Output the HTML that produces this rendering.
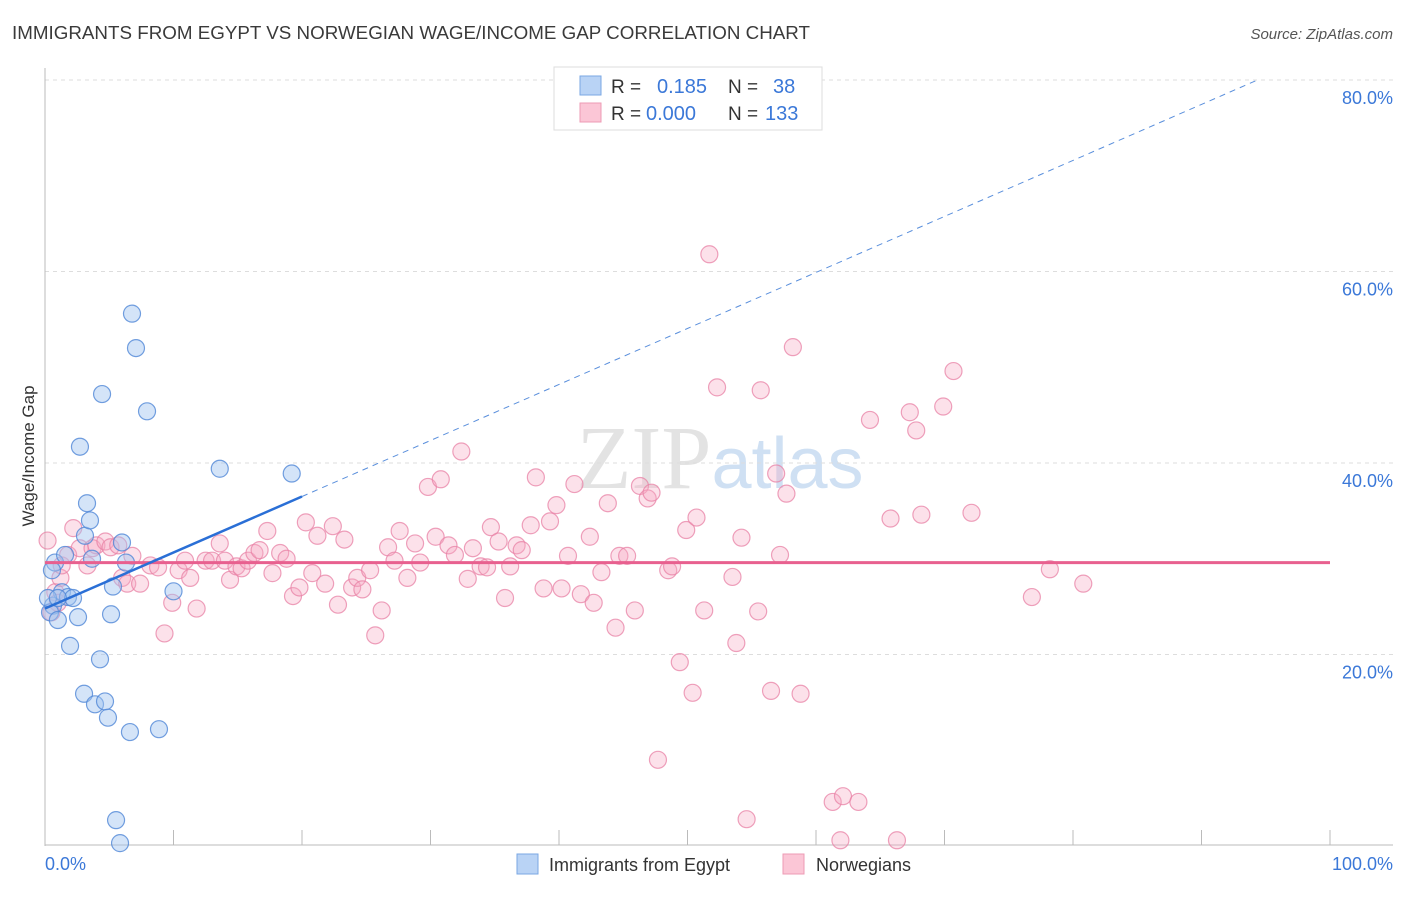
<!DOCTYPE html>
<html><head><meta charset="utf-8"><style>
body{margin:0;background:#fff;font-family:"Liberation Sans",sans-serif;}
</style></head><body>
<svg id="chart" width="1406" height="892" xmlns="http://www.w3.org/2000/svg" font-family="Liberation Sans, sans-serif">
<text x="12" y="39" font-size="18" fill="#3a3a3a" textLength="798" lengthAdjust="spacingAndGlyphs">IMMIGRANTS FROM EGYPT VS NORWEGIAN WAGE/INCOME GAP CORRELATION CHART</text>
<text x="1393" y="39" font-size="15" fill="#555" font-style="italic" text-anchor="end">Source: ZipAtlas.com</text>
<text x="720" y="488" font-size="90" text-anchor="middle" fill="#e3e3e3"><tspan font-family="Liberation Serif, serif">ZIP</tspan><tspan fill="#cfe0f3" font-size="72">atlas</tspan></text>
<g id="grid"></g>
<g id="axes"></g>
<g id="marks"></g>
<text transform="translate(34,456) rotate(-90)" font-size="17" fill="#333" text-anchor="middle">Wage/Income Gap</text>
<g>
<rect x="554" y="67" width="268" height="63" fill="#fff" stroke="#ddd"/>
<rect x="580" y="76" width="21" height="19" fill="#b9d3f5" stroke="#7aa7e3"/>
<rect x="580" y="103" width="21" height="19" fill="#fbc6d6" stroke="#ee9bb4"/>
<text x="611" y="93" font-size="19" fill="#333">R = </text><text x="657" y="93" font-size="20" fill="#3b78d8">0.185</text>
<text x="728" y="93" font-size="19" fill="#333">N = </text><text x="773" y="93" font-size="20" fill="#3b78d8">38</text>
<text x="611" y="120" font-size="19" fill="#333">R = </text><text x="646" y="120" font-size="20" fill="#3b78d8">0.000</text>
<text x="728" y="120" font-size="19" fill="#333">N = </text><text x="765" y="120" font-size="20" fill="#3b78d8">133</text>
</g>
<g>
<rect x="517" y="854" width="21" height="20" fill="#b9d3f5" stroke="#7aa7e3"/>
<text x="549" y="871" font-size="18" fill="#333">Immigrants from Egypt</text>
<rect x="783" y="854" width="21" height="20" fill="#fbc6d6" stroke="#ee9bb4"/>
<text x="816" y="871" font-size="18" fill="#333">Norwegians</text>
</g>
</svg>
<script>
const yTicks=[20,40,60,80];
const yTickLabels=["20.0%","40.0%","60.0%","80.0%"];
const xTicks=[0,10,20,30,40,50,60,70,80,90,100];
const xEndLabels=["0.0%","100.0%"];
const egyptX=[0.78,0.54,0.62,0.39,1.0,1.56,1.32,1.79,2.18,1.95,2.57,3.11,2.72,3.27,3.5,3.66,4.28,3.04,3.89,4.67,4.9,5.14,5.29,5.99,6.3,6.61,8.87,6.77,7.08,7.94,4.44,13.6,19.2,10.0,5.53,5.84,0.23,1.0];
const egyptY=[29.6,28.8,25.1,24.4,23.6,30.4,26.5,26.0,25.9,20.9,23.9,32.4,41.7,35.8,34.0,30.0,19.5,15.9,14.8,15.1,13.4,24.2,27.1,31.7,29.6,11.9,12.2,55.6,52.0,45.4,47.2,39.4,38.9,26.6,2.7,0.3,25.9,25.9];
const norX=[0.8,1.2,0.5,1.0,1.3,1.8,2.2,2.7,3.3,3.7,4.0,4.7,5.1,5.7,6.0,6.4,6.8,7.4,8.2,8.8,9.3,9.9,10.4,10.9,11.3,11.8,12.5,13.0,13.6,14.0,14.4,14.9,15.3,15.8,16.3,16.7,17.3,17.7,18.3,18.8,19.3,19.8,20.3,20.8,21.2,21.8,22.4,22.8,23.3,23.9,24.3,24.7,25.3,25.7,26.2,26.7,27.2,27.6,28.2,28.8,29.2,29.8,30.4,30.8,31.4,31.9,32.4,32.9,33.3,33.9,34.4,34.7,35.3,35.8,36.2,36.7,37.1,37.8,38.2,38.8,39.3,39.8,40.2,40.7,41.2,41.7,42.4,42.7,43.3,43.8,44.4,44.7,45.3,45.9,46.3,46.9,47.2,48.5,48.8,49.4,49.9,50.4,50.7,51.3,51.7,52.3,53.5,53.8,54.2,55.5,55.7,56.5,56.9,57.2,57.7,58.2,58.8,47.7,54.6,61.3,62.1,63.3,61.9,66.3,64.2,65.8,67.3,67.8,68.2,69.9,70.7,72.1,76.8,78.2,80.8,0.2];
const norY=[26.5,28.0,24.4,25.4,29.3,30.4,33.2,31.1,29.3,31.1,31.4,31.8,31.2,31.4,28.0,27.4,30.3,27.4,29.3,29.1,22.2,25.4,28.8,29.8,28.0,24.8,29.8,29.8,31.6,29.8,27.8,29.2,29.0,29.8,30.6,30.9,32.9,28.5,30.6,30.0,26.1,27.0,33.8,28.5,32.4,27.4,33.4,25.2,32.0,27.0,28.0,26.8,28.8,22.0,24.6,31.2,29.8,32.9,28.0,31.6,29.6,37.5,32.3,38.3,31.4,30.4,41.2,27.9,31.1,29.2,29.1,33.3,31.8,25.9,29.2,31.4,30.9,33.5,38.5,26.9,33.9,35.6,26.9,30.3,37.8,26.3,32.3,25.4,28.6,35.8,22.8,30.3,30.3,24.6,37.6,36.3,36.9,28.8,29.2,19.2,33.0,16.0,34.3,24.6,61.8,47.9,28.1,21.2,32.2,24.5,47.6,16.2,38.9,30.4,36.8,52.1,15.9,9.0,2.8,4.6,5.2,4.6,0.6,0.6,44.5,34.2,45.3,43.4,34.6,45.9,49.6,34.8,26.0,28.9,27.4,31.9];
const egyptTrend=[24.8,0.585]; // intercept, slope
const norTrend=[29.6,0];
const X0=45,X1=1330,Y0=846,Y80=80;
const sx=v=>X0+(X1-X0)*v/100;
const sy=v=>Y0-(Y0-Y80)*v/80;
const NS="http://www.w3.org/2000/svg";
function mk(tag,attrs,parent){const e=document.createElementNS(NS,tag);for(const k in attrs)e.setAttribute(k,attrs[k]);parent.appendChild(e);return e;}
const grid=document.getElementById('grid'),axes=document.getElementById('axes'),marks=document.getElementById('marks');
yTicks.forEach((t,i)=>{
  const l=mk('line',{x1:X0,x2:1393,y1:sy(t),y2:sy(t),stroke:'#ddd','stroke-dasharray':'4,4'},grid);
  
  
  const tx=mk('text',{x:1393,y:sy(t)+24,'font-size':18,fill:'#3b78d8','text-anchor':'end'},axes);
  tx.textContent=yTickLabels[i];
  
  
});
const la=mk('line',{x1:X0,x2:X0,y1:68,y2:Y0,stroke:'#bbb'},axes);


const ba=mk('line',{x1:X0,x2:1393,y1:845,y2:845,stroke:'#bbb'},axes);


xTicks.forEach(t=>{
  const tk=mk('line',{x1:sx(t),x2:sx(t),y1:830,y2:845,stroke:'#bbb'},axes);
  
  
});
const xl0=mk('text',{x:45,y:870,'font-size':18,fill:'#3b78d8'},axes);xl0.textContent=xEndLabels[0];


const xl1=mk('text',{x:1393,y:870,'font-size':18,fill:'#3b78d8','text-anchor':'end'},axes);xl1.textContent=xEndLabels[1];


norX.forEach((x,i)=>{
  const c=mk('circle',{cx:sx(x),cy:sy(norY[i]),r:8.5,fill:'rgba(245,170,195,0.35)',stroke:'rgba(232,130,165,0.75)','stroke-width':1.2},marks);
  
  
});
egyptX.forEach((x,i)=>{
  const c=mk('circle',{cx:sx(x),cy:sy(egyptY[i]),r:8.5,fill:'rgba(160,195,240,0.45)',stroke:'rgba(80,135,215,0.8)','stroke-width':1.2},marks);
  
  
});
const nl=mk('line',{x1:sx(0),x2:sx(100),y1:sy(norTrend[0]),y2:sy(norTrend[0]+norTrend[1]*100),stroke:'#e8608f','stroke-width':3},marks);


const xe=Math.min(100,(80-egyptTrend[0])/egyptTrend[1]);
const ed=mk('line',{x1:sx(20),x2:sx(xe),y1:sy(egyptTrend[0]+egyptTrend[1]*20),y2:sy(egyptTrend[0]+egyptTrend[1]*xe),stroke:'#5a8fdc','stroke-width':1,'stroke-dasharray':'6,5'},marks);


const el=mk('line',{x1:sx(0),x2:sx(20),y1:sy(egyptTrend[0]),y2:sy(egyptTrend[0]+egyptTrend[1]*20),stroke:'#2a6fd6','stroke-width':2.5},marks);


</script>
</body></html>
